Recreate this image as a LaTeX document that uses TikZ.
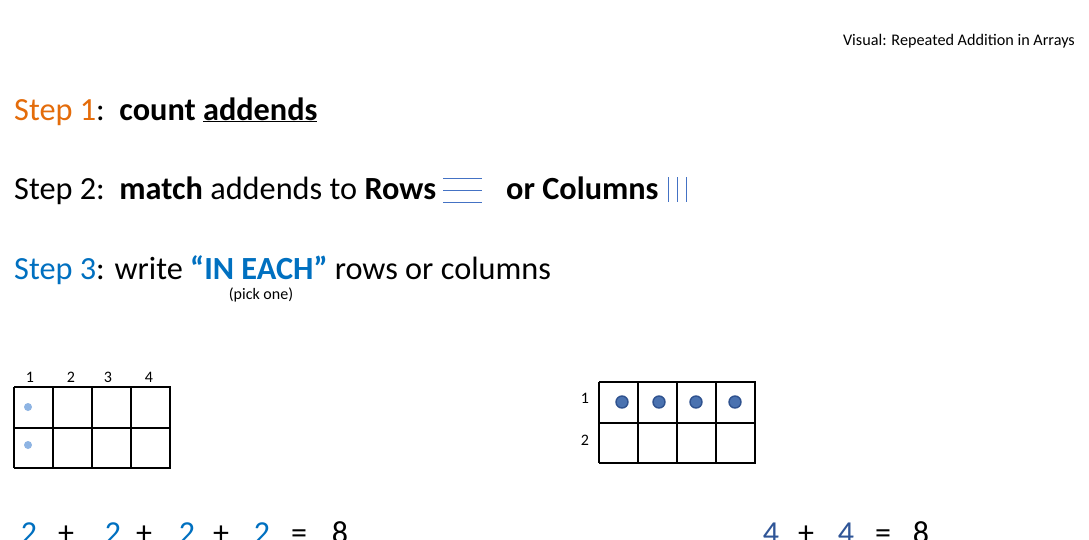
\documentclass[tikz,border=0pt]{standalone}
\usepackage{fontspec}
\setmainfont{Carlito}
\definecolor{stepor}{HTML}{E46C0A}
\definecolor{stepbl}{HTML}{0070C0}
\definecolor{linebl}{HTML}{4472C4}
\definecolor{dotlt}{HTML}{8EB4E3}
\definecolor{dotdk}{HTML}{4A72B0}
\definecolor{dotedge}{HTML}{2F528F}
\definecolor{numdk}{HTML}{2F5597}
\tikzset{
  big/.style={anchor=base west,inner sep=0pt,font=\fontsize{32.3}{36}\selectfont},
  small/.style={anchor=base,inner sep=0pt,font=\fontsize{16}{18}\selectfont},
  lab/.style={anchor=base,inner sep=0pt,font=\fontsize{16}{18}\selectfont},
  gridline/.style={line width=1.3pt,black},
  eqn/.style={anchor=base,inner sep=0pt,font=\fontsize{32}{36}\selectfont},
}
\begin{document}
\begin{tikzpicture}[x=1pt,y=-1pt]
\useasboundingbox[fill=white] (0,0) rectangle (1089,539);
% title
\node[anchor=base east,inner sep=0pt,font=\fontsize{16.2}{18}\selectfont] (title) at (1075,45) {Visual: Repeated Addition in Arrays};
% steps
\node[big] (s1) at (14,120) {\textcolor{stepor}{Step 1}:\ \ \textbf{count \underline{addends}}};
\node[big] (s2) at (14,199) {Step 2:\ \ \textbf{match} addends to \textbf{Rows}};
\node[big] (s2b) at (506,199) {\textbf{or Columns}};
\node[big] (s3) at (14,279) {\textcolor{stepbl}{Step 3}: write \textcolor{stepbl}{\textbf{“IN EACH”}} rows or columns};
\node[small] (pick) at (261,299) {(pick one)};
% rows / columns marks
\foreach \yy in {178,190,202} \draw[linebl,line width=1pt] (443,\yy) -- (482,\yy);
\foreach \xx in {668,677,686} \draw[linebl,line width=1pt] (\xx,177) -- (\xx,202);
% left grid
\foreach \xx in {14,53,92,131,170} \draw[gridline] (\xx,387) -- (\xx,468);
\foreach \yy in {387,428,468} \draw[gridline] (14,\yy) -- (171,\yy);
\foreach \xx/\t [count=\i] in {30/1,71/2,108/3,149/4} \node[lab] (lc\i) at (\xx,382) {\t};
\fill[dotlt] (28,407) circle (4);
\fill[dotlt] (28,445) circle (4);
% right grid
\foreach \xx in {599,638,677,716,755} \draw[gridline] (\xx,382) -- (\xx,463);
\foreach \yy in {382,423,463} \draw[gridline] (599,\yy) -- (756,\yy);
\node[lab] (r1) at (585,403) {1};
\node[lab] (r2) at (585,445) {2};
\foreach \xx in {622,659,696,735} \filldraw[fill=dotdk,draw=dotedge,line width=1.4pt] (\xx,402) circle (6);
% equations
\node[eqn,stepbl] (a1) at (29,543) {2};
\node[eqn] (p1) at (66,543) {+};
\node[eqn,stepbl] (a2) at (113,543) {2};
\node[eqn] (p2) at (144,543) {+};
\node[eqn,stepbl] (a3) at (187,543) {2};
\node[eqn] (p3) at (221,543) {+};
\node[eqn,stepbl] (a4) at (262,543) {2};
\node[eqn] (e1) at (299,543) {=};
\node[eqn] (r8a) at (340,543) {8};
\node[eqn,numdk] (b1) at (771,543) {4};
\node[eqn] (q1) at (806,543) {+};
\node[eqn,numdk] (b2) at (846,543) {4};
\node[eqn] (e2) at (883,543) {=};
\node[eqn] (r8b) at (921,543) {8};
\end{tikzpicture}
\end{document}
